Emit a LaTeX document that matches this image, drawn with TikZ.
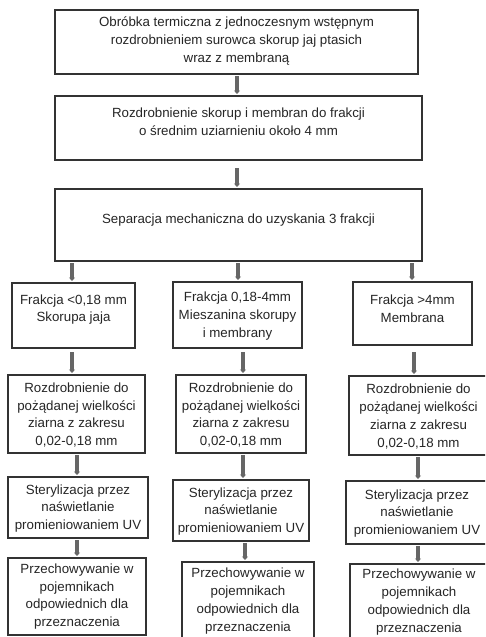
\documentclass[tikz,border=0pt]{standalone}
\usepackage{fontspec}
\setmainfont{Liberation Sans}
\usetikzlibrary{arrows.meta,calc}
\definecolor{boxline}{HTML}{333333}
\definecolor{txtcol}{HTML}{262626}
\definecolor{arrcol}{HTML}{666666}
\tikzset{
  box/.style={draw=boxline,line width=1.3pt,inner sep=0pt,outer sep=0pt},
  txt/.style={text=txtcol,align=center,inner sep=0pt,font=\fontsize{13.3pt}{17.8pt}\selectfont},
  arr/.style={draw=arrcol,line width=3.4pt,-{Triangle[width=6pt,length=3.5pt]},shorten <=2pt,shorten >=2pt}
}
\begin{document}
\begin{tikzpicture}[x=1pt,y=-1pt]
\useasboundingbox (0,0) rectangle (485,637);
\fill[white] (0,0) rectangle (485,637);
\clip (0,0) rectangle (485,637);
% boxes
\node[box,minimum width=363pt,minimum height=64pt] (b1) at (236.5,42) {};
\node[box,minimum width=367pt,minimum height=64pt] (b2) at (238.5,128) {};
\node[box,minimum width=367pt,minimum height=72pt] (b3) at (238.5,225) {};
\node[box,minimum width=123pt,minimum height=65pt] (l4) at (73.5,315.5) {};
\node[box,minimum width=129pt,minimum height=66pt] (m4) at (237.5,315) {};
\node[box,minimum width=119pt,minimum height=63pt] (r4) at (412.5,313.5) {};
\node[box,minimum width=137pt,minimum height=78pt] (l5) at (76.5,414) {};
\node[box,minimum width=130pt,minimum height=78pt] (m5) at (241,414) {};
\node[box,minimum width=139pt,minimum height=79pt] (r5) at (418.5,415.5) {};
\node[box,minimum width=140pt,minimum height=61pt] (l6) at (78,507.5) {};
\node[box,minimum width=136pt,minimum height=61pt] (m6) at (241,510.5) {};
\node[box,minimum width=142pt,minimum height=63pt] (r6) at (417,512.5) {};
\node[box,minimum width=138pt,minimum height=77pt] (l7) at (77,596.5) {};
\node[box,minimum width=132pt,minimum height=78pt] (m7) at (248,601) {};
\node[box,minimum width=138pt,minimum height=76pt] (r7) at (419,602) {};
% texts
\node[txt] (t1) at ($(b1.center)+(0,-1)$) {Obróbka termiczna z jednoczesnym wstępnym\\rozdrobnieniem surowca skorup jaj ptasich\\wraz z membraną};
\node[txt] (t2) at ($(b2.center)+(0,-6)$) {Rozdrobnienie skorup i membran do frakcji\\o średnim uziarnieniu około 4 mm};
\node[txt] (t3) at ($(b3.center)+(0,-5)$) {Separacja mechaniczna do uzyskania 3 frakcji};
\node[txt] (tl4) at ($(l4.center)+(0,-6)$) {Frakcja <0,18 mm\\Skorupa jaja};
\node[txt] (tm4) at ($(m4.center)+(0,1)$) {Frakcja 0,18-4mm\\Mieszanina skorupy\\i membrany};
\node[txt] (tr4) at ($(r4.center)+(0,-5)$) {Frakcja >4mm\\Membrana};
\foreach \n in {l5,m5,r5}{
  \node[txt] (t\n) at ($(\n.center)+(0,1)$) {Rozdrobnienie do\\pożądanej wielkości\\ziarna z zakresu\\0,02-0,18 mm};
}
\foreach \n in {l6,m6,r6}{
  \node[txt] (t\n) at ($(\n.center)+(0,1)$) {Sterylizacja przez\\naświetlanie\\promieniowaniem UV};
}
\foreach \n in {l7,m7,r7}{
  \node[txt] (t\n) at ($(\n.center)+(0,0)$) {Przechowywanie w\\pojemnikach\\odpowiednich dla\\przeznaczenia};
}
% arrows
\draw[arr] (237,0 |- b1.south) -- (237,0 |- b2.north);
\draw[arr,shorten <=8pt] (237,0 |- b2.south) -- (237,0 |- b3.north);
\draw[arr] (72,0 |- b3.south) -- (72,0 |- l4.north);
\draw[arr] (238,0 |- b3.south) -- (238,0 |- m4.north);
\draw[arr] (412,0 |- b3.south) -- (412,0 |- r4.north);
\draw[arr,shorten <=4pt] (72,0 |- l4.south) -- (72,0 |- l5.north);
\draw[arr,shorten <=4pt] (243,0 |- m4.south) -- (243,0 |- m5.north);
\draw[arr,shorten <=7pt] (414,0 |- r4.south) -- (414,0 |- r5.north);
\draw[arr] (77,0 |- l5.south) -- (77,0 |- l6.north);
\draw[arr] (243,0 |- m5.south) -- (243,0 |- m6.north);
\draw[arr] (418,0 |- r5.south) -- (418,0 |- r6.north);
\draw[arr] (77,0 |- l6.south) -- (77,0 |- l7.north);
\draw[arr] (245,0 |- m6.south) -- (245,0 |- m7.north);
\draw[arr] (418,0 |- r6.south) -- (418,0 |- r7.north);
\end{tikzpicture}
\end{document}
